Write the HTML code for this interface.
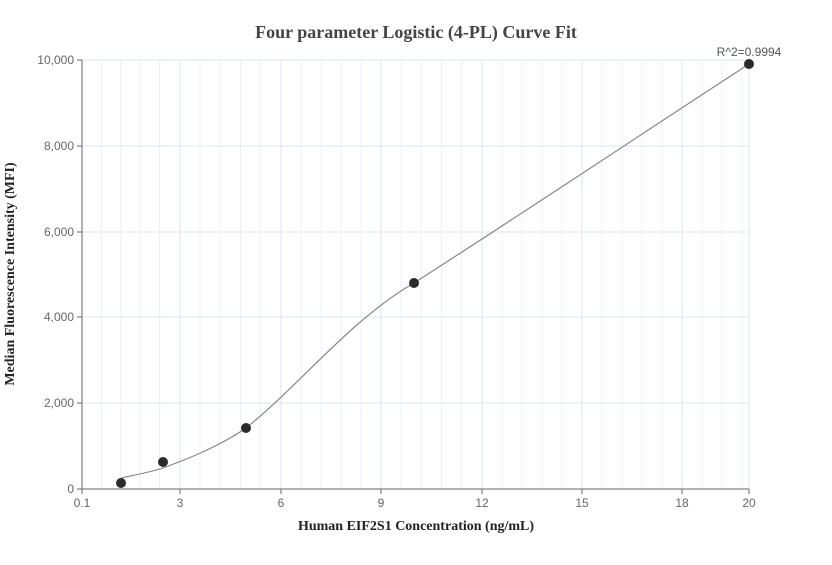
<!DOCTYPE html>
<html><head><meta charset="utf-8"><style>body{margin:0;background:#fff}</style></head><body>
<svg width="832" height="560" xmlns="http://www.w3.org/2000/svg" font-family="Liberation Sans, sans-serif">
<rect width="832" height="560" fill="#fff"/>
<g stroke="#eef0f8" stroke-width="1">
<line x1="101.4" y1="60" x2="101.4" y2="489"/><line x1="120.8" y1="60" x2="120.8" y2="489"/><line x1="140.2" y1="60" x2="140.2" y2="489"/><line x1="159.6" y1="60" x2="159.6" y2="489"/>
<line x1="200" y1="60" x2="200" y2="489"/><line x1="220" y1="60" x2="220" y2="489"/><line x1="240.5" y1="60" x2="240.5" y2="489"/><line x1="260.5" y1="60" x2="260.5" y2="489"/>
<line x1="301" y1="60" x2="301" y2="489"/><line x1="321" y1="60" x2="321" y2="489"/><line x1="341" y1="60" x2="341" y2="489"/><line x1="361" y1="60" x2="361" y2="489"/>
<line x1="401" y1="60" x2="401" y2="489"/><line x1="421" y1="60" x2="421" y2="489"/><line x1="441.5" y1="60" x2="441.5" y2="489"/><line x1="461.5" y1="60" x2="461.5" y2="489"/>
<line x1="502" y1="60" x2="502" y2="489"/><line x1="522" y1="60" x2="522" y2="489"/><line x1="542" y1="60" x2="542" y2="489"/><line x1="562" y1="60" x2="562" y2="489"/>
<line x1="602" y1="60" x2="602" y2="489"/><line x1="622" y1="60" x2="622" y2="489"/><line x1="642" y1="60" x2="642" y2="489"/><line x1="662" y1="60" x2="662" y2="489"/>
<line x1="702" y1="60" x2="702" y2="489"/><line x1="722" y1="60" x2="722" y2="489"/><line x1="742" y1="60" x2="742" y2="489"/>
</g>
<g stroke="#dfe3f2" stroke-width="1">
<line x1="180" y1="60" x2="180" y2="489"/><line x1="281" y1="60" x2="281" y2="489"/><line x1="381" y1="60" x2="381" y2="489"/><line x1="482" y1="60" x2="482" y2="489"/><line x1="582" y1="60" x2="582" y2="489"/><line x1="682" y1="60" x2="682" y2="489"/><line x1="749" y1="60" x2="749" y2="489"/>
<line x1="82" y1="60" x2="749" y2="60"/><line x1="82" y1="146" x2="749" y2="146"/><line x1="82" y1="232" x2="749" y2="232"/><line x1="82" y1="317" x2="749" y2="317"/><line x1="82" y1="403" x2="749" y2="403"/>
</g>
<g stroke="#666" stroke-width="1">
<line x1="82" y1="60" x2="82" y2="489"/><line x1="82" y1="489" x2="749" y2="489"/>
<line x1="77" y1="60" x2="82" y2="60"/><line x1="77" y1="146" x2="82" y2="146"/><line x1="77" y1="232" x2="82" y2="232"/><line x1="77" y1="317" x2="82" y2="317"/><line x1="77" y1="403" x2="82" y2="403"/><line x1="77" y1="489" x2="82" y2="489"/>
<line x1="82" y1="489" x2="82" y2="494"/><line x1="180" y1="489" x2="180" y2="494"/><line x1="281" y1="489" x2="281" y2="494"/><line x1="381" y1="489" x2="381" y2="494"/><line x1="482" y1="489" x2="482" y2="494"/><line x1="582" y1="489" x2="582" y2="494"/><line x1="682" y1="489" x2="682" y2="494"/><line x1="749" y1="489" x2="749" y2="494"/>
</g>
<g fill="#666" font-size="12" text-anchor="end">
<text x="74" y="64">10,000</text><text x="74" y="150">8,000</text><text x="74" y="236">6,000</text><text x="74" y="321">4,000</text><text x="74" y="407">2,000</text><text x="74" y="493">0</text>
</g>
<g fill="#666" font-size="12" text-anchor="middle">
<text x="82" y="507">0.1</text><text x="180" y="507">3</text><text x="281" y="507">6</text><text x="381" y="507">9</text><text x="482" y="507">12</text><text x="582" y="507">15</text><text x="682" y="507">18</text><text x="749" y="507">20</text>
</g>
<path d="M121,478 C140,474 155,471 163,468 C190,458 220,446 246,428 C300,385 350,320 414,283 C520,215 640,135 749,64" fill="none" stroke="#888" stroke-width="1.2"/>
<g fill="#2b2b2b">
<circle cx="121" cy="483" r="5"/><circle cx="163" cy="462" r="5"/><circle cx="246" cy="428" r="5"/><circle cx="414" cy="283" r="5"/><circle cx="749" cy="64" r="5"/>
</g>
<text x="749" y="56" font-size="12" fill="#555" text-anchor="middle">R^2=0.9994</text>
<text x="416" y="38" font-family="Liberation Serif, serif" font-weight="bold" font-size="18" fill="#444" text-anchor="middle">Four parameter Logistic (4-PL) Curve Fit</text>
<text x="416" y="530" font-family="Liberation Serif, serif" font-weight="bold" font-size="14" fill="#222" text-anchor="middle">Human EIF2S1 Concentration (ng/mL)</text>
<text transform="translate(14,274) rotate(-90)" font-family="Liberation Serif, serif" font-weight="bold" font-size="14" fill="#222" text-anchor="middle">Median Fluorescence Intensity (MFI)</text>
</svg>
</body></html>
